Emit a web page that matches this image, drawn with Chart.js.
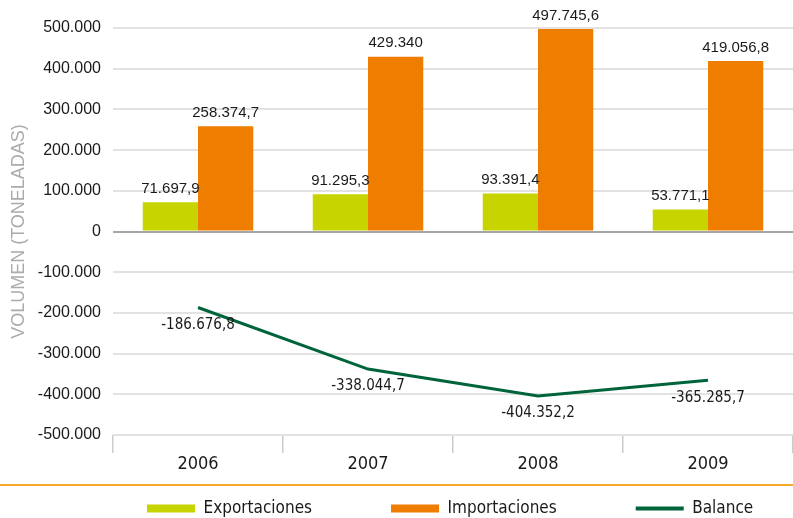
<!DOCTYPE html>
<html>
<head>
<meta charset="utf-8">
<script src="https://cdn.jsdelivr.net/npm/chart.js@4.4.0/dist/chart.umd.min.js"></script>
<style>
  html, body { margin: 0; padding: 0; background: #fff; }
</style>
</head>
<body>
<canvas id="chart" width="793" height="518"></canvas>
<script>
// data
const years = ['2006', '2007', '2008', '2009'];
const exportaciones = [71697.9, 91295.3, 93391.4, 53771.1];
const importaciones = [258374.7, 429340, 497745.6, 419056.8];
const balance = [-186676.8, -338044.7, -404352.2, -365285.7];
const yMin = -500000;
const yMax = 500000;
const yStep = 100000;

const NARROW = "'DejaVu Sans Condensed', 'Liberation Sans', sans-serif";
const SANS = "'Liberation Sans', Arial, Helvetica, sans-serif";

// 258374.7 -> "258.374,7", 429340 -> "429.340"
function fmtNum(v) {
  const neg = v < 0;
  const parts = Math.abs(v).toFixed(1).split('.');
  let s = parts[0].replace(/\B(?=(\d{3})+(?!\d))/g, '.');
  if (parts[1] !== '0') s += ',' + parts[1];
  return (neg ? '-' : '') + s;
}

const valueLabels = {
  id: 'valueLabels',
  afterDatasetsDraw(chart) {
    const ctx = chart.ctx;
    ctx.save();
    ctx.fillStyle = '#1a1a1a';
    ctx.textAlign = 'center';
    chart.data.datasets.forEach((ds, i) => {
      const meta = chart.getDatasetMeta(i);
      meta.data.forEach((el, j) => {
        const txt = fmtNum(ds.data[j]);
        if (ds.type === 'line') {
          ctx.font = '15px ' + NARROW;
          ctx.textBaseline = 'top';
          ctx.fillText(txt, el.x, el.y + 10);
        } else {
          ctx.font = '15px ' + SANS;
          ctx.textBaseline = 'bottom';
          ctx.fillText(txt, el.x, el.y - 6);
        }
      });
    });
    ctx.restore();
  }
};

// thin golden rule above the legend
const separator = {
  id: 'separator',
  afterDraw(chart) {
    const ctx = chart.ctx;
    ctx.save();
    ctx.strokeStyle = '#f3a72e';
    ctx.lineWidth = 2;
    ctx.beginPath();
    ctx.moveTo(0, 485);
    ctx.lineTo(chart.width, 485);
    ctx.stroke();
    ctx.restore();
  }
};

// legend items are spread wide, so move the legend box by hand
const legendPlacer = {
  id: 'legendPlacer',
  afterLayout(chart) {
    const lg = chart.legend;
    lg.left = 68;
    lg.right = 1000;
    lg.top = 421;
    lg.bottom = 530;
  }
};

const ctx = document.getElementById('chart').getContext('2d');
new Chart(ctx, {
  type: 'bar',
  data: {
    labels: years,
    datasets: [
      {
        label: 'Exportaciones',
        data: exportaciones,
        backgroundColor: '#c8d400',
        borderColor: '#c8d400',
        borderWidth: 0,
        pointStyle: 'rect',
        categoryPercentage: 0.65,
        barPercentage: 1.0
      },
      {
        label: 'Importaciones',
        data: importaciones,
        backgroundColor: '#ef7d00',
        borderColor: '#ef7d00',
        borderWidth: 0,
        pointStyle: 'rect',
        categoryPercentage: 0.65,
        barPercentage: 1.0
      },
      {
        type: 'line',
        label: 'Balance',
        data: balance,
        borderColor: '#00643a',
        backgroundColor: '#00643a',
        borderWidth: 3,
        pointRadius: 0,
        pointBorderWidth: 4,
        pointBorderColor: '#00643a',
        pointStyle: 'line',
        tension: 0,
        fill: false
      }
    ]
  },
  options: {
    responsive: false,
    animation: false,
    layout: { padding: { top: 28, right: 0, bottom: 0, left: 0 } },
    plugins: {
      tooltip: { enabled: false },
      legend: {
        position: 'bottom',
        align: 'start',
        maxHeight: 30,
        labels: {
          usePointStyle: true,
          pointStyleWidth: 48,
          boxHeight: 8,
          padding: 79,
          color: '#1a1a1a',
          font: { family: NARROW, size: 17 }
        }
      }
    },
    scales: {
      x: {
        grid: {
          offset: true,
          drawOnChartArea: false,
          tickLength: 18,
          color: '#cccccc',
          lineWidth: 1.5
        },
        border: { display: false },
        ticks: {
          color: '#1a1a1a',
          padding: 1,
          font: { family: NARROW, size: 18 }
        },
        afterFit: (s) => { s.height = 53; }
      },
      y: {
        min: yMin,
        max: yMax,
        grid: {
          drawTicks: false,
          lineWidth: 2,
          color: (c) => c.tick.value === 0 ? '#a6a6a6' : '#e2e2e2'
        },
        border: { display: false },
        ticks: {
          stepSize: yStep,
          padding: 12,
          color: '#1a1a1a',
          font: { family: SANS, size: 16 },
          callback: (v) => fmtNum(v)
        },
        title: {
          display: true,
          text: 'VOLUMEN (TONELADAS)',
          color: '#ababab',
          padding: { top: 8, bottom: 0 },
          font: { family: SANS, size: 18 }
        },
        afterFit: (s) => { s.width = 113; }
      }
    }
  },
  plugins: [valueLabels, separator, legendPlacer]
});
</script>
</body>
</html>
